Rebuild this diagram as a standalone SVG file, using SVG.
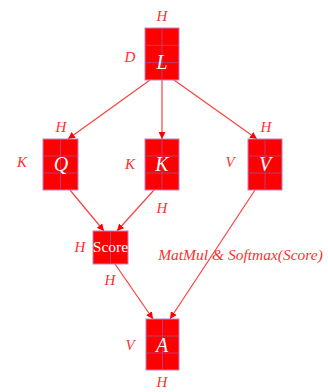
<svg xmlns="http://www.w3.org/2000/svg" width="328" height="392" viewBox="0 0 328 392">
<style>
.box{fill:#ff0000;stroke:#c080c0;stroke-width:1}
.grid{stroke:#a05090;stroke-width:0.8;fill:none}
.lab{font-family:"Liberation Serif",serif;font-style:italic;font-size:15px;fill:#ff3030;text-anchor:middle}
.in{font-family:"Liberation Serif",serif;font-style:italic;font-size:20px;fill:#ffffff;text-anchor:middle}
.edge{stroke:#ff4040;stroke-width:1.2;fill:none;marker-end:url(#ah)}
</style>
<defs>
<marker id="ah" viewBox="0 0 10 10" refX="10" refY="5" markerWidth="7" markerHeight="7" orient="auto" markerUnits="userSpaceOnUse">
<path d="M0,0 L10,5 L0,10 z" fill="#ff0000"/>
</marker>
</defs>
<rect width="328" height="392" fill="#ffffff"/>
<g id="connectors">
<line class="edge" x1="150" y1="80" x2="68" y2="139"/>
<line class="edge" x1="162" y1="80" x2="162" y2="139"/>
<line class="edge" x1="174" y1="80" x2="257" y2="139"/>
<line class="edge" x1="70" y1="190" x2="104" y2="231"/>
<line class="edge" x1="154" y1="190" x2="117" y2="231"/>
<line class="edge" x1="115" y1="264" x2="153" y2="319"/>
<line class="edge" x1="255" y1="190" x2="170" y2="319"/>
</g>
<g id="L">
<rect class="box" x="145" y="28" width="34" height="52"/>
<path class="grid" d="M162,28V80M145,45.3H179M145,62.7H179"/>
<text class="in" x="162" y="69">L</text>
<text class="lab" x="162" y="21">H</text>
<text class="lab" x="130" y="62">D</text>
</g>
<g id="Q">
<rect class="box" x="43" y="139" width="35" height="51"/>
<path class="grid" d="M60.5,139V190M43,156H78M43,173H78"/>
<text class="in" x="61" y="171">Q</text>
<text class="lab" x="61" y="132">H</text>
<text class="lab" x="22" y="167">K</text>
</g>
<g id="K">
<rect class="box" x="145" y="139" width="34" height="51"/>
<path class="grid" d="M162,139V190M145,156H179M145,173H179"/>
<text class="in" x="162" y="171">K</text>
<text class="lab" x="130" y="169">K</text>
<text class="lab" x="162" y="213">H</text>
</g>
<g id="V">
<rect class="box" x="248" y="139" width="34" height="51"/>
<path class="grid" d="M265,139V190M248,156H282M248,173H282"/>
<text class="in" x="265" y="171">V</text>
<text class="lab" x="266" y="132">H</text>
<text class="lab" x="230" y="167">V</text>
</g>
<g id="Score">
<rect class="box" x="93" y="231" width="35" height="33"/>
<path class="grid" d="M110.5,231V264"/>
<text x="110.5" y="251.5" font-family="Liberation Serif,serif" font-size="15.5" fill="#ffffff" text-anchor="middle">Score</text>
<text class="lab" x="80" y="252">H</text>
<text class="lab" x="110" y="285">H</text>
</g>
<g id="A">
<rect class="box" x="146" y="319" width="33" height="51"/>
<path class="grid" d="M162.5,319V370M146,336H179M146,353H179"/>
<text class="in" x="162" y="352">A</text>
<text class="lab" x="130" y="350">V</text>
<text class="lab" x="162" y="387">H</text>
</g>
<text class="lab" x="240.5" y="260" style="font-size:15.5px">MatMul &amp; Softmax(Score)</text>
</svg>
